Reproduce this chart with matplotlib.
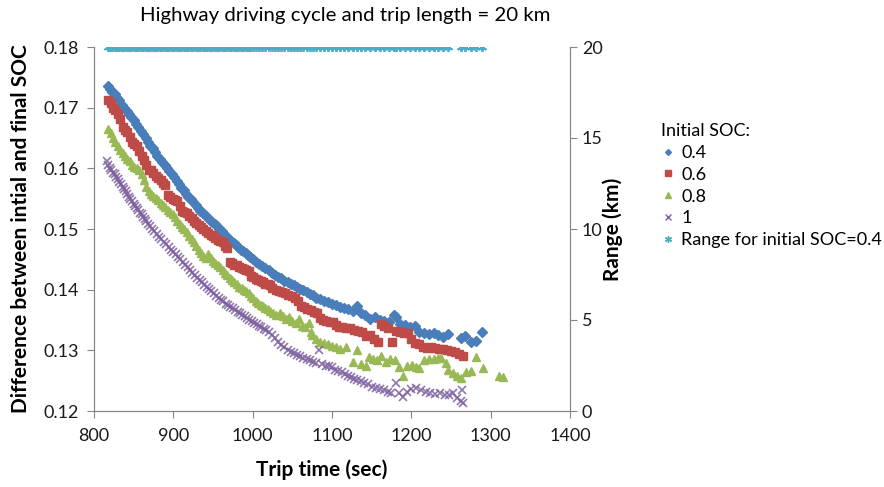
import matplotlib
matplotlib.use("Agg")
import matplotlib.pyplot as plt
from matplotlib.lines import Line2D

plt.rcParams['font.family'] = ['Lato', 'DejaVu Sans']

# ---- data ----
time_04 = [818,820,823,826,829,832,835,838,841,844,847,850,853,856,859,862,865,868,871,874,
           877,880,883,886,889,892,895,898,901,904,907,910,913,916,919,922,925,928,931,934,
           937,940,943,946,949,952,955,958,961,964,967,970,973,976,979,982,985,988,991,994,
           997,1000,1004,1008,1012,1016,1020,1024,1028,1032,1036,1040,1044,1048,1052,1056,1060,1064,1068,1072,
           1076,1080,1085,1090,1095,1100,1105,1110,1115,1120,1126,1131,1136,1142,1148,1154,1160,1166,1172,1178,
           1181,1186,1192,1198,1204,1210,1216,1222,1228,1234,1240,1246,1262,1268,1275,1282,1289]
dsoc_04 = [.1736,.1731,.1726,.1722,.1716,.1712,.1705,.1700,.1694,.1690,.1684,.1679,.1673,.1668,.1661,.1656,.1650,.1643,.1637,.1633,
           .1627,.1620,.1615,.1611,.1606,.1600,.1596,.1590,.1585,.1579,.1574,.1568,.1564,.1558,.1553,.1549,.1545,.1540,.1535,.1530,
           .1527,.1523,.1520,.1515,.1512,.1508,.1505,.1500,.1497,.1492,.1488,.1484,.1481,.1477,.1473,.1470,.1466,.1463,.1460,.1457,
           .1454,.1450,.1446,.1442,.1439,.1436,.1432,.1428,.1425,.1421,.1419,.1415,.1412,.1410,.1407,.1404,.1401,.1399,.1396,.1393,
           .1391,.1387,.1385,.1382,.1379,.1377,.1375,.1372,.1370,.1368,.1365,.1373,.1362,.1358,.1352,.1355,.1350,.1348,.1347,.1358,
           .1355,.1343,.1341,.1338,.1340,.1331,.1329,.1327,.1329,.1325,.1322,.1327,.1321,.1324,.1313,.1315,.1330]

time_06 = [818,821,824,827,830,833,836,839,842,845,848,851,854,857,860,863,866,869,872,875,
           878,881,884,887,890,893,896,899,902,905,908,911,914,917,920,923,926,929,932,935,
           938,941,944,947,950,953,956,959,962,965,968,971,974,977,980,983,986,989,992,995,
           998,1001,1004,1007,1010,1013,1016,1019,1022,1025,1029,1033,1037,1041,1045,1049,1053,1057,1061,1065,
           1069,1073,1077,1081,1085,1089,1093,1097,1101,1105,1109,1113,1118,1123,1128,1133,1138,1143,1148,1153,
           1158,1162,1166,1171,1176,1181,1186,1191,1196,1200,1205,1210,1215,1220,1225,1230,1235,1240,1245,1250,
           1255,1260,1265]
dsoc_06 = [.1712,.1708,.1700,.1696,.1690,.1682,.1668,.1664,.1660,.1652,.1644,.1640,.1636,.1628,.1620,.1614,.1605,.1598,.1597,.1592,
           .1588,.1584,.1580,.1576,.1572,.1556,.1552,.1550,.1548,.1546,.1538,.1530,.1528,.1526,.1522,.1518,.1514,.1510,.1506,.1503,
           .1500,.1497,.1494,.1490,.1488,.1485,.1482,.1480,.1478,.1472,.1468,.1446,.1444,.1441,.1440,.1438,.1436,.1434,.1432,.1430,
           .1423,.1421,.1418,.1416,.1414,.1412,.1410,.1409,.1407,.1403,.1400,.1398,.1396,.1394,.1392,.1390,.1386,.1382,.1373,.1371,
           .1368,.1366,.1364,.1362,.1354,.1350,.1348,.1347,.1346,.1342,.1339,.1338,.1337,.1336,.1333,.1332,.1330,.1324,.1326,.1318,
           .1314,.1343,.1340,.1336,.1313,.1332,.1330,.1329,.1328,.1318,.1312,.1310,.1305,.1304,.1306,.1304,.1303,.1302,.1301,.1299,
           .1297,.1294,.1290]

time_08 = [818,821,824,827,830,833,836,839,842,845,848,851,854,857,860,863,866,869,872,875,
           878,881,884,887,890,893,896,899,902,905,908,911,914,917,920,923,926,929,932,935,
           938,941,944,947,950,953,956,959,962,965,968,971,974,977,980,983,986,989,992,995,
           998,1001,1004,1007,1010,1013,1016,1019,1022,1026,1030,1034,1038,1042,1046,1050,1054,1058,1062,1066,
           1071,1073,1075,1080,1085,1090,1095,1100,1105,1110,1118,1126,1131,1136,1143,1147,1152,1157,1162,1168,
           1173,1179,1185,1189,1195,1201,1206,1210,1216,1222,1228,1233,1238,1244,1246,1252,1258,1262,1269,1275,
           1281,1290,1311,1315]
dsoc_08 = [.1665,.1658,.1650,.1643,.1636,.1630,.1625,.1620,.1616,.1612,.1606,.1603,.1600,.1597,.1590,.1580,.1570,.1562,.1558,.1555,
           .1551,.1547,.1543,.1540,.1536,.1532,.1528,.1525,.1520,.1514,.1508,.1504,.1500,.1495,.1489,.1483,.1478,.1472,.1466,.1460,
           .1455,.1452,.1458,.1452,.1448,.1444,.1440,.1437,.1433,.1428,.1424,.1420,.1416,.1412,.1409,.1405,.1402,.1400,.1397,.1394,
           .1390,.1386,.1382,.1378,.1375,.1373,.1370,.1368,.1365,.1362,.1358,.1362,.1356,.1352,.1355,.1349,.1345,.1352,.1340,.1338,
           .1345,.1330,.1326,.1318,.1314,.1312,.1310,.1307,.1305,.1302,.1305,.1280,.1300,.1277,.1275,.1289,.1286,.1284,.1290,.1281,
           .1285,.1284,.1273,.1257,.1274,.1276,.1272,.1271,.1284,.1286,.1285,.1288,.1287,.1279,.1268,.1262,.1258,.1255,.1265,.1266,
           .1289,.1271,.1257,.1256]

time_10 = [816,818,820,822,824,826,828,830,832,834,836,838,840,842,844,846,848,850,852,854,
           856,858,860,862,864,866,868,870,873,876,879,882,885,888,891,894,897,900,903,906,
           909,912,915,918,921,924,927,930,933,936,939,942,945,948,951,954,957,960,963,966,
           969,972,975,978,981,984,987,990,993,996,999,1002,1005,1008,1011,1014,1017,1020,1024,1028,
           1032,1036,1040,1044,1048,1052,1056,1060,1064,1068,1072,1076,1080,1084,1088,1092,1096,1100,1104,1108,
           1112,1116,1120,1124,1128,1132,1136,1140,1145,1150,1155,1160,1165,1170,1175,1181,1185,1189,1195,1200,
           1206,1212,1218,1224,1230,1236,1242,1248,1252,1258,1262,1264,1265]
dsoc_10 = [.1612,.1606,.1601,.1598,.1593,.1590,.1586,.1582,.1578,.1574,.1570,.1566,.1562,.1557,.1553,.1550,.1546,.1542,.1538,.1535,
           .1531,.1527,.1524,.1520,.1516,.1513,.1509,.1505,.1500,.1496,.1492,.1487,.1483,.1479,.1475,.1471,.1466,.1462,.1458,.1454,
           .1450,.1445,.1441,.1437,.1432,.1428,.1424,.1420,.1416,.1412,.1408,.1404,.1401,.1397,.1394,.1390,.1387,.1383,.1381,.1377,
           .1375,.1371,.1369,.1366,.1364,.1361,.1359,.1356,.1353,.1350,.1348,.1345,.1343,.1340,.1338,.1335,.1333,.1330,.1326,.1320,
           .1313,.1308,.1305,.1301,.1298,.1295,.1293,.1290,.1288,.1286,.1284,.1281,.1279,.1300,.1277,.1275,.1274,.1272,.1268,.1266,
           .1264,.1261,.1258,.1256,.1253,.1251,.1249,.1246,.1244,.1240,.1238,.1236,.1234,.1232,.1230,.1246,.1229,.1223,.1231,.1236,
           .1238,.1235,.1232,.1230,.1228,.1229,.1227,.1226,.1230,.1222,.1217,.1235,.1214]

# Range for initial SOC = 0.4 (same trips as the SOC 0.4 series, all 20 km)
range_time = time_04
range_km = [20.0] * len(time_04)

c_blue, c_red, c_green, c_purple, c_cyan = '#4A7EBB', '#BE4B48', '#98B954', '#7D60A0', '#4BACC6'
grey = '#868686'

fig = plt.figure(figsize=(8.84, 4.87), dpi=100)
ax = fig.add_axes([94/884, 1-411/487, (570-94)/884, (411-47)/487])
ax2 = ax.twinx()

ax.plot(time_04, dsoc_04, ls='none', marker='D', ms=5.2, color=c_blue, mec=c_blue)
ax.plot(time_06, dsoc_06, ls='none', marker='s', ms=6.0, color=c_red, mec=c_red)
ax.plot(time_08, dsoc_08, ls='none', marker='^', ms=6.3, color=c_green, mec=c_green)
ax.plot(time_10, dsoc_10, ls='none', marker='x', ms=5.3, mew=1.2, color=c_purple, alpha=0.85)
ax2.plot(range_time, range_km, ls='none', marker=(6, 2, 0), ms=6.5, mew=1.3, color=c_cyan)

ax.set_xlim(800, 1400)
ax.set_ylim(0.12, 0.18)
ax2.set_ylim(0, 20)
ax.set_xticks([800, 900, 1000, 1100, 1200, 1300, 1400])
ax.set_yticks([0.12, 0.13, 0.14, 0.15, 0.16, 0.17, 0.18])
ax.set_yticklabels(['0.12', '0.13', '0.14', '0.15', '0.16', '0.17', '0.18'])
ax2.set_yticks([0, 5, 10, 15, 20])

for a in (ax, ax2):
    for s in a.spines.values():
        s.set_color(grey)
    a.spines['top'].set_visible(False)
    a.tick_params(colors=grey, labelcolor='#1a1a1a', labelsize=13, length=5, direction='out')
ax.tick_params(axis='x', pad=7)
ax.tick_params(axis='y', pad=6)

ax.set_xlabel('Trip time (sec)', fontsize=15, fontweight='bold')
ax.xaxis.set_label_coords((322 - 94) / 476, -(459 - 411) / 364)
ax.set_ylabel('Difference between intial and final SOC', fontsize=15, fontweight='bold', labelpad=9)
ax2.set_ylabel('Range (km)', fontsize=15, fontweight='bold', labelpad=0)
fig.text(345/884, 1-15/487, 'Highway driving cycle and trip length = 20 km', ha='center', va='center', fontsize=14.7)

handles = [
    Line2D([], [], ls='none', marker='D', ms=3, color=c_blue),
    Line2D([], [], ls='none', marker='s', ms=4.5, color=c_red),
    Line2D([], [], ls='none', marker='^', ms=4.5, color=c_green),
    Line2D([], [], ls='none', marker='x', ms=4, mew=1, color=c_purple),
    Line2D([], [], ls='none', marker=(6, 2, 0), ms=5, mew=1, color=c_cyan),
]
labels = ['0.4', '0.6', '0.8', '1', 'Range for initial SOC=0.4']
leg = fig.legend(handles, labels, title='Initial SOC:', loc='upper left',
                 bbox_to_anchor=(654/884, 1-116/487), frameon=False, fontsize=13,
                 title_fontsize=13, handlelength=0.7, handletextpad=0.4, labelspacing=0.32,
                 alignment='left', borderaxespad=0)

fig.savefig('out.png', dpi=100)
